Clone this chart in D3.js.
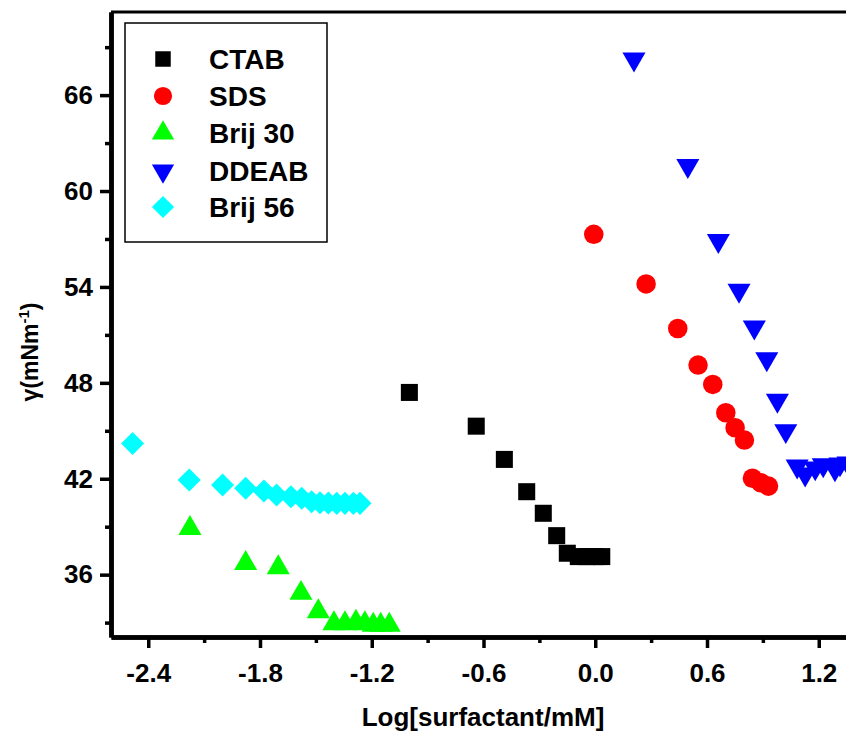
<!DOCTYPE html>
<html>
<head>
<meta charset="utf-8">
<script src="https://cdn.jsdelivr.net/npm/d3@7"></script>
<style>
  body { margin: 0; background: white; }
  svg { display: block; font-family: "Liberation Sans", Arial, sans-serif; font-weight: bold; }
</style>
</head>
<body>
<svg id="chart"></svg>
<script>
var W = 846, H = 740;

// data (x = log conc, y = surface tension)
var ctabX = [-0.998, -0.639, -0.488, -0.368, -0.279, -0.207, -0.150, -0.091, -0.046, -0.001, 0.035];
var ctabY = [47.40, 45.29, 43.21, 41.19, 39.84, 38.44, 37.34, 37.13, 37.13, 37.13, 37.13];

var sdsX = [-0.008, 0.273, 0.443, 0.552, 0.631, 0.701, 0.751, 0.801, 0.844, 0.889, 0.930];
var sdsY = [57.29, 54.19, 51.40, 49.11, 47.90, 46.13, 45.19, 44.42, 42.03, 41.75, 41.54];

var brij30X = [-2.176, -1.877, -1.702, -1.580, -1.487, -1.403, -1.344, -1.285, -1.237, -1.192, -1.152, -1.106];
var brij30Y = [38.90, 36.71, 36.44, 34.84, 33.69, 32.94, 32.94, 33.04, 32.94, 32.84, 32.84, 32.84];

var ddeabX = [0.208, 0.497, 0.661, 0.772, 0.854, 0.921, 0.978, 1.023, 1.084, 1.127, 1.181, 1.224, 1.287, 1.314, 1.357];
var ddeabY = [68.25, 61.59, 56.90, 53.78, 51.48, 49.50, 46.90, 45.00, 42.79, 42.29, 42.67, 42.86, 42.61, 42.92, 42.98];

var brij56X = [-2.484, -2.180, -2.001, -1.877, -1.779, -1.711, -1.634, -1.576, -1.523, -1.478, -1.433, -1.388, -1.344, -1.299, -1.263];
var brij56Y = [44.21, 41.92, 41.61, 41.40, 41.23, 40.98, 40.88, 40.78, 40.56, 40.50, 40.48, 40.46, 40.46, 40.46, 40.46];

var names = ["CTAB", "SDS", "Brij 30", "DDEAB", "Brij 56"];
var colors = ["#000000", "#ff0000", "#00ff00", "#0000ff", "#00ffff"];

var xTicks = [-2.4, -1.8, -1.2, -0.6, 0.0, 0.6, 1.2];
var xMinor = [-2.1, -1.5, -0.9, -0.3, 0.3, 0.9];
var yTicks = [36, 42, 48, 54, 60, 66];
var yMinor = [33, 39, 45, 51, 57, 63, 69];

var series = [
  {name: names[0], color: colors[0], xs: ctabX, ys: ctabY, shape: "square"},
  {name: names[1], color: colors[1], xs: sdsX, ys: sdsY, shape: "circle"},
  {name: names[2], color: colors[2], xs: brij30X, ys: brij30Y, shape: "up"},
  {name: names[3], color: colors[3], xs: ddeabX, ys: ddeabY, shape: "down"},
  {name: names[4], color: colors[4], xs: brij56X, ys: brij56Y, shape: "diamond"}
];

var pLeft = 111, pRight = 856, pTop = 12, pBottom = 637;

var x = d3.scaleLinear().domain([-2.6, 1.4]).range([pLeft, pRight]);
var y = d3.scaleLinear().domain([32.1, 71.2]).range([pBottom, pTop]);

var svg = d3.select("#chart").attr("width", W).attr("height", H);

var sym = {
  square: d3.symbol().type(d3.symbolSquare).size(290),
  circle: d3.symbol().type(d3.symbolCircle).size(300),
  up: d3.symbol().type(d3.symbolTriangle).size(230),
  down: d3.symbol().type(d3.symbolTriangle).size(230),
  diamond: d3.symbol().type(d3.symbolSquare).size(265)
};
var rot = {square: 0, circle: 0, up: 0, down: 180, diamond: 45};

// points
series.forEach(function(s) {
  var pts = s.xs.map(function(v, i) { return {x: v, y: s.ys[i]}; });
  svg.append("g").selectAll("path")
    .data(pts)
  .enter().append("path")
    .attr("d", sym[s.shape]())
    .attr("transform", function(d) {
      return "translate(" + x(d.x) + "," + y(d.y) + ") rotate(" + rot[s.shape] + ")";
    })
    .style("fill", s.color);
});

// frame
svg.append("line").attr("x1", pLeft).attr("x2", pRight).attr("y1", pTop).attr("y2", pTop)
  .style("stroke", "black").style("stroke-width", 3);
svg.append("line").attr("x1", pRight).attr("x2", pRight).attr("y1", pTop).attr("y2", pBottom)
  .style("stroke", "black").style("stroke-width", 3);

// axes
var xAxis = svg.append("g").attr("transform", "translate(0," + pBottom + ")")
  .call(d3.axisBottom(x).tickValues(xTicks).tickSize(11).tickSizeOuter(0).tickPadding(16)
    .tickFormat(function(d) { return d3.format(".1f")(d).replace("\u2212", "-"); }));
svg.append("g").attr("transform", "translate(0," + pBottom + ")")
  .call(d3.axisBottom(x).tickValues(xMinor).tickSize(6).tickSizeOuter(0).tickFormat(""));

var yAxis = svg.append("g").attr("transform", "translate(" + pLeft + ",0)")
  .call(d3.axisLeft(y).tickValues(yTicks).tickSize(11).tickSizeOuter(0).tickPadding(7));
svg.append("g").attr("transform", "translate(" + pLeft + ",0)")
  .call(d3.axisLeft(y).tickValues(yMinor).tickSize(6).tickSizeOuter(0).tickFormat(""));

svg.selectAll(".domain").style("stroke", "black").style("stroke-width", 4.5);
svg.selectAll(".tick line").style("stroke", "black").style("stroke-width", 3.5);
svg.selectAll(".tick text").style("font-size", "26px").style("font-weight", "bold")
  .style("font-family", "'Liberation Sans', Arial, sans-serif").style("fill", "black");

// axis titles
svg.append("text")
  .attr("x", 483).attr("y", 726)
  .attr("text-anchor", "middle")
  .style("font-size", "26px")
  .text("Log[surfactant/mM]");

var yt = svg.append("text")
  .attr("transform", "translate(38,352) rotate(-90)")
  .attr("text-anchor", "middle")
  .style("font-size", "23px");
yt.append("tspan").text("\u03b3(mNm");
yt.append("tspan").attr("dy", -9).style("font-size", "15px").text("-1");
yt.append("tspan").attr("dy", 9).text(")");

// legend
var lg = svg.append("g");
lg.append("rect").attr("x", 125).attr("y", 23).attr("width", 202).attr("height", 219)
  .style("fill", "white").style("stroke", "black").style("stroke-width", 1.5);

var lsym = {
  square: d3.symbol().type(d3.symbolSquare).size(240),
  circle: d3.symbol().type(d3.symbolCircle).size(260),
  up: d3.symbol().type(d3.symbolTriangle).size(215),
  down: d3.symbol().type(d3.symbolTriangle).size(215),
  diamond: d3.symbol().type(d3.symbolSquare).size(245)
};
var rowY = [59, 96, 133, 171, 207];
series.forEach(function(s, i) {
  lg.append("path").attr("d", lsym[s.shape]())
    .attr("transform", "translate(163," + rowY[i] + ") rotate(" + rot[s.shape] + ")")
    .style("fill", s.color);
  lg.append("text").attr("x", 209).attr("y", rowY[i] + 10)
    .style("font-size", "28px").text(s.name);
});
</script>
</body>
</html>
